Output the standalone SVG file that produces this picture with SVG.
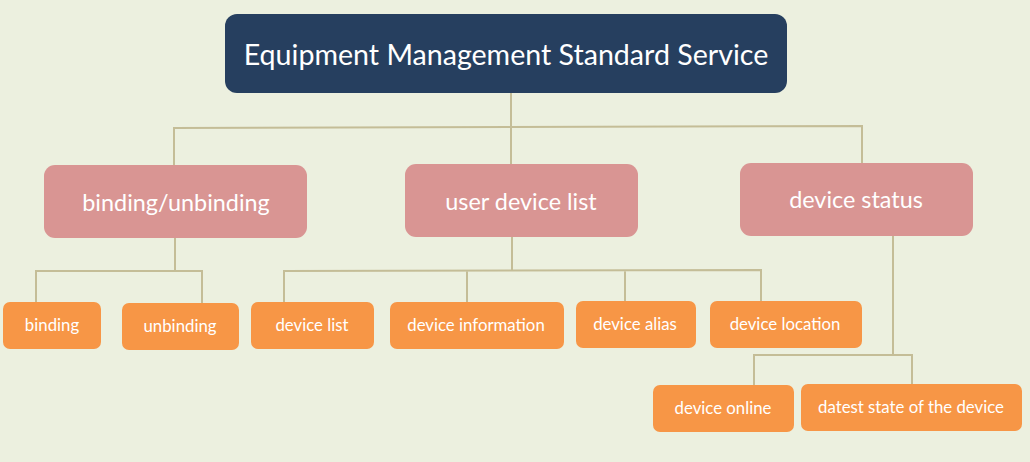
<svg xmlns="http://www.w3.org/2000/svg" width="1030" height="462" viewBox="0 0 1030 462">
<style>
.bg{fill:#ecf0df}
.root{fill:#263f5f}
.l1{fill:#d99593}
.l2{fill:#f79646}
text{font-family:Lato,"Open Sans","Liberation Sans",sans-serif;fill:#ffffff;text-anchor:middle}
.t0{font-size:28.6px}
.t1{font-size:23.4px}
.t2{font-size:16.8px}
.conn{fill:none;stroke:#c4bd97;stroke-width:2}
</style>
<rect class="bg" x="0" y="0" width="1030" height="462"/>
<g id="connectors" class="conn">
<path d="M511,93 V127 M174,165 V128 L862,126 V163 M511,127 V164"/>
<path d="M175,238 V271 M36,302 V271 H202 V303"/>
<path d="M512,237 V270 M284,302 V271 L761,270 V301 M467,271 V302 M625,270 V301"/>
<path d="M893,236 V355 M754,385 V355 H912 V384"/>
</g>
<g id="root"><rect class="root" x="225" y="14" width="562" height="79" rx="12"/><text class="t0" x="506" y="65">Equipment Management Standard Service</text></g>
<g id="binding-unbinding"><rect class="l1" x="44" y="165" width="263" height="73" rx="11"/><text class="t1" x="176" y="211">binding/unbinding</text></g>
<g id="user-device-list"><rect class="l1" x="405" y="164" width="233" height="73" rx="11"/><text class="t1" x="521" y="210">user device list</text></g>
<g id="device-status"><rect class="l1" x="740" y="163" width="233" height="73" rx="11"/><text class="t1" x="856" y="208">device status</text></g>
<g id="binding"><rect class="l2" x="3" y="302" width="98" height="47" rx="7"/><text class="t2" x="52" y="331">binding</text></g>
<g id="unbinding"><rect class="l2" x="122" y="303" width="117" height="47" rx="7"/><text class="t2" x="180" y="332">unbinding</text></g>
<g id="device-list"><rect class="l2" x="251" y="302" width="123" height="47" rx="7"/><text class="t2" x="312" y="331">device list</text></g>
<g id="device-information"><rect class="l2" x="390" y="302" width="174" height="47" rx="7"/><text class="t2" x="476" y="331">device information</text></g>
<g id="device-alias"><rect class="l2" x="576" y="301" width="120" height="47" rx="7"/><text class="t2" x="635" y="330">device alias</text></g>
<g id="device-location"><rect class="l2" x="710" y="301" width="152" height="47" rx="7"/><text class="t2" x="785" y="330">device location</text></g>
<g id="device-online"><rect class="l2" x="653" y="385" width="141" height="47" rx="7"/><text class="t2" x="723" y="414">device online</text></g>
<g id="datest-state"><rect class="l2" x="801" y="384" width="221" height="47" rx="7"/><text class="t2" x="911" y="413">datest state of the device</text></g>
</svg>
